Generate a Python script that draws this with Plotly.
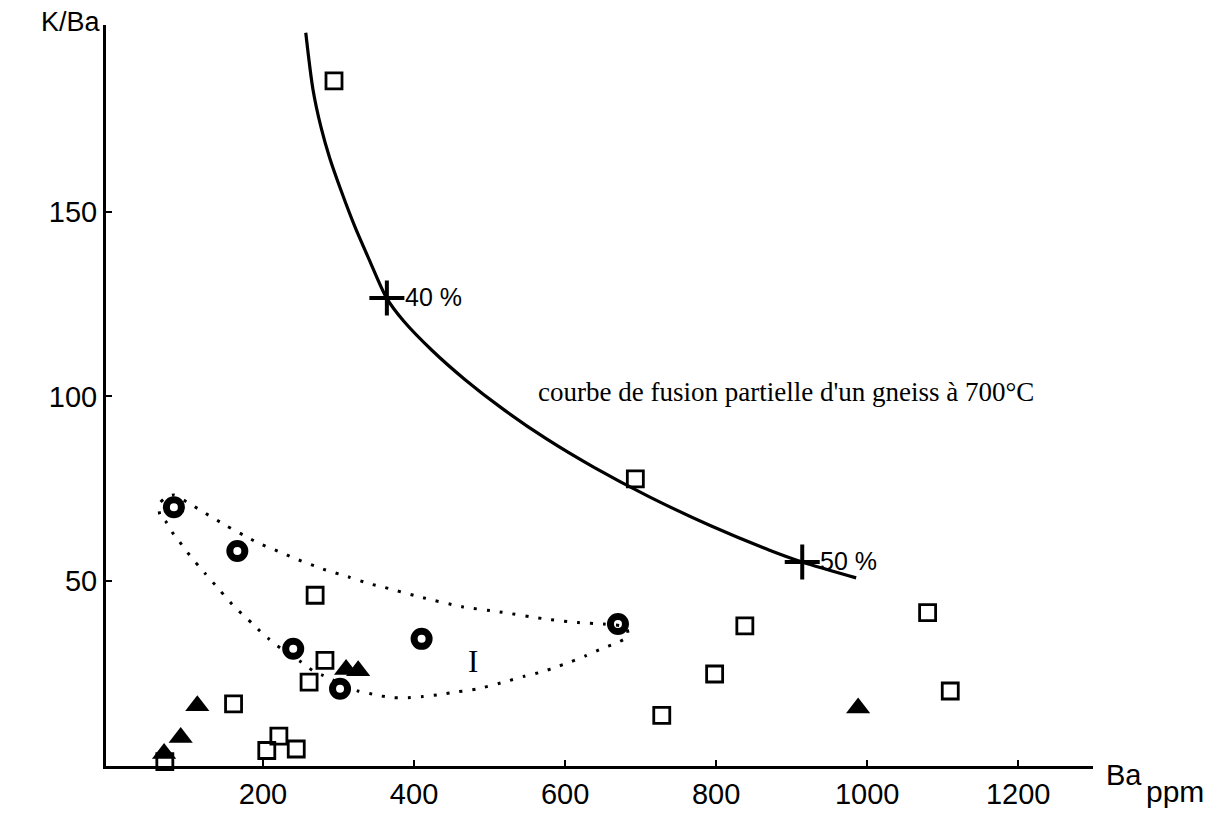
import plotly.graph_objects as go

# ---------------- data ----------------
# open squares
sq_ba = [294, 693, 269, 282, 261, 161, 221, 205, 244, 70, 728, 798, 838, 1080, 1110]
sq_k = [185.4, 77.7, 46.2, 28.6, 22.7, 16.8, 8.1, 4.2, 4.6, 1.2, 13.7, 24.9, 37.9, 41.5, 20.3]

# thick open circles (domain I)
ci_ba = [82, 166, 240, 410, 302, 670]
ci_k = [70.0, 58.2, 31.7, 34.4, 20.9, 38.4]

# filled triangles
tr_ba = [113, 91, 69, 310, 326, 988]
tr_k = [16.3, 7.7, 3.4, 26.1, 25.8, 15.7]

# partial-melting curve of a gneiss at 700 C
curve_ba = [256.6, 266.2, 277.2, 288.3, 303.7, 321.5, 340.4, 363.7, 386.2, 423.6, 467.2,
            517.0, 573.9, 638.3, 711.0, 792.8, 870.7, 913.9, 985.4]
curve_k = [198.4, 183.0, 172.5, 164.5, 155.5, 146.0, 137.1, 126.6, 120.4, 112.5, 104.6,
           96.7, 88.7, 80.8, 72.9, 65.0, 58.4, 55.2, 50.9]

# melt fraction marks on the curve
pct_ba = [364, 914]
pct_k = [126.6, 55.2]
pct_labels = ["40 %", "50 %"]

# dotted envelope of domain I
env_ba = [71.9, 63.2, 63.2, 69.8, 81.7, 105.0, 122.8, 151.4, 175.8, 191.1, 219.9, 244.1, 279.5,
          312.6, 341.3, 361.2, 406.6, 463.6, 513.1, 577.0, 617.2, 651.3, 672.8, 680.8, 683.4,
          682.1, 665.8, 649.0, 626.9, 607.5, 591.3, 569.9, 546.2, 522.6, 482.5, 458.3, 436.2,
          411.9, 392.1, 372.2, 354.6, 341.3, 325.8, 279.5, 268.5, 257.4, 248.6, 217.6, 206.6,
          195.6, 185.4, 175.8, 163.3, 142.6, 131.5, 122.8, 115.2, 107.3, 98.4, 89.7, 79.9, 71.9]
env_k = [66.0, 68.1, 71.1, 72.4, 73.3, 70.7, 68.5, 65.0, 62.3, 60.6, 58.1, 56.0, 53.3,
         51.2, 49.3, 48.3, 45.8, 43.1, 41.7, 39.7, 38.8, 38.4, 38.0, 37.5, 35.9,
         34.8, 33.1, 31.8, 29.8, 28.2, 27.0, 25.5, 24.3, 22.9, 20.8, 20.1, 19.4,
         18.8, 18.5, 18.5, 19.0, 19.6, 20.3, 24.5, 25.4, 27.1, 28.4, 32.7, 34.6,
         36.6, 38.6, 40.5, 42.8, 47.6, 50.2, 52.2, 54.0, 55.9, 58.2, 60.6, 63.2, 66.0]

x_ticks = [200, 400, 600, 800, 1000, 1200]
y_ticks = [50, 100, 150]

# ---------------- figure ----------------
fig = go.Figure()

fig.add_trace(go.Scatter(
    x=env_ba, y=env_k, mode="lines",
    line=dict(color="black", width=3, dash="3px,10px", shape="spline", smoothing=0.6),
    hoverinfo="skip", cliponaxis=False))

fig.add_trace(go.Scatter(
    x=curve_ba, y=curve_k, mode="lines",
    line=dict(color="black", width=3.2, shape="spline", smoothing=0.8),
    cliponaxis=False))

fig.add_trace(go.Scatter(
    x=pct_ba, y=pct_k, mode="markers",
    marker=dict(symbol="cross-thin-open", size=25, color="black",
                line=dict(color="black", width=4)),
    cliponaxis=False))

fig.add_trace(go.Scatter(
    x=sq_ba, y=sq_k, mode="markers",
    marker=dict(symbol="square-open", size=16, color="black", line=dict(color="black", width=2.8)),
    cliponaxis=False))

fig.add_trace(go.Scatter(
    x=tr_ba, y=tr_k, mode="markers",
    marker=dict(symbol="triangle-up", size=21, color="black", line=dict(color="black", width=0)),
    cliponaxis=False))

fig.add_trace(go.Scatter(
    x=ci_ba, y=ci_k, mode="markers",
    marker=dict(symbol="circle-open", size=15, color="black", line=dict(color="black", width=7)),
    cliponaxis=False))

sans = "Liberation Sans, Arial, sans-serif"
serif = "Liberation Serif, Times New Roman, serif"

annotations = []
for bx, ky, lab in zip(pct_ba, pct_k, pct_labels):
    annotations.append(dict(x=bx, y=ky, xref="x", yref="y", text=lab, showarrow=False,
                            xanchor="left", yanchor="middle", xshift=16, yshift=1,
                            font=dict(family=sans, size=25, color="black")))

annotations.append(dict(x=561, y=101.3, xref="x", yref="y",
                        text="courbe de fusion partielle d'un gneiss à 700°C",
                        showarrow=False, xanchor="left", yanchor="middle",
                        font=dict(family=serif, size=27, color="black")))

annotations.append(dict(x=478, y=29.3, xref="x", yref="y", text="I", showarrow=False,
                        xanchor="center", yanchor="middle", yshift=-4,
                        font=dict(family=serif, size=31, color="black")))

annotations.append(dict(x=0, y=1, xref="paper", yref="paper", text="K/Ba", showarrow=False,
                        xanchor="right", yanchor="middle", xshift=-3, yshift=3,
                        font=dict(family=sans, size=27, color="black")))

annotations.append(dict(x=1, y=0, xref="paper", yref="paper", text="Ba",
                        showarrow=False, xanchor="left", yanchor="middle", xshift=11, yshift=-9,
                        font=dict(family=sans, size=29, color="black")))
annotations.append(dict(x=1, y=0, xref="paper", yref="paper", text="ppm",
                        showarrow=False, xanchor="left", yanchor="middle", xshift=51, yshift=-25,
                        font=dict(family=sans, size=30, color="black")))

fig.update_layout(
    width=1224, height=814,
    margin=dict(l=98, r=139, t=17, b=38),
    paper_bgcolor="white", plot_bgcolor="white",
    showlegend=False,
    annotations=annotations,
)

fig.update_xaxes(
    range=[-7.9, 1299], tickvals=x_ticks, ticktext=[str(v) for v in x_ticks],
    showgrid=False, zeroline=False, showline=True, linecolor="black", linewidth=3,
    ticks="inside", ticklen=6, tickwidth=2, tickcolor="black",
    tickfont=dict(family=sans, size=29, color="black"))

fig.update_yaxes(
    range=[0, 200.5], tickvals=y_ticks, ticktext=[str(v) for v in y_ticks],
    showgrid=False, zeroline=False, showline=True, linecolor="black", linewidth=3,
    ticks="inside", ticklen=6, tickwidth=2, tickcolor="black",
    tickfont=dict(family=sans, size=29, color="black"))

fig.write_html("out.html")
